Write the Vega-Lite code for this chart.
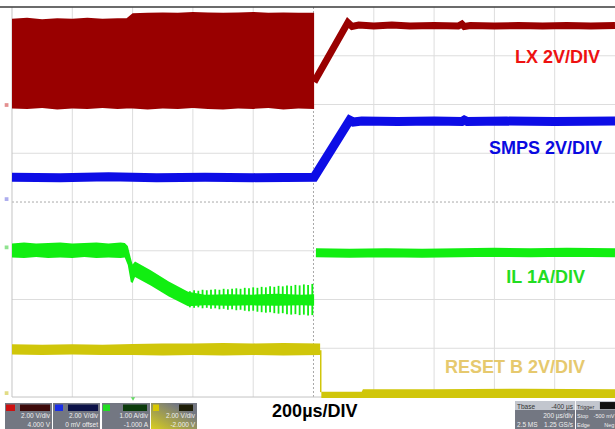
{
  "$schema": "https://vega.github.io/schema/vega-lite/v6.json",
  "width": 615,
  "height": 429,
  "autosize": {"type": "none"},
  "padding": 0,
  "background": "white",
  "config": {"view": {"stroke": null}},
  "resolve": {"scale": {"color": "independent", "fill": "independent", "stroke": "independent"}},
  "datasets": {
    "vgrid": [{"t": 1}, {"t": 2}, {"t": 3}, {"t": 4}, {"t": 6}, {"t": 7}, {"t": 8}, {"t": 9}],
    "hgrid": [{"v": 1}, {"v": 2}, {"v": 3}, {"v": 5}, {"v": 6}, {"v": 7}],
    "lxband": [
      {"t": 0, "v": 7.76, "v2": 5.92}, {"t": 0.25, "v": 7.78, "v2": 5.91}, {"t": 0.5, "v": 7.75, "v2": 5.93},
      {"t": 0.75, "v": 7.77, "v2": 5.9}, {"t": 1.0, "v": 7.76, "v2": 5.92}, {"t": 1.25, "v": 7.78, "v2": 5.91},
      {"t": 1.5, "v": 7.76, "v2": 5.93}, {"t": 1.75, "v": 7.77, "v2": 5.91}, {"t": 1.9, "v": 7.77, "v2": 5.92},
      {"t": 2.0, "v": 7.87, "v2": 5.92}, {"t": 2.25, "v": 7.88, "v2": 5.9}, {"t": 2.5, "v": 7.89, "v2": 5.92},
      {"t": 2.75, "v": 7.88, "v2": 5.91}, {"t": 3.0, "v": 7.9, "v2": 5.93}, {"t": 3.25, "v": 7.89, "v2": 5.91},
      {"t": 3.5, "v": 7.88, "v2": 5.9}, {"t": 3.75, "v": 7.89, "v2": 5.92}, {"t": 4.0, "v": 7.9, "v2": 5.91},
      {"t": 4.25, "v": 7.88, "v2": 5.93}, {"t": 4.5, "v": 7.89, "v2": 5.9}, {"t": 4.75, "v": 7.88, "v2": 5.92},
      {"t": 5.01, "v": 7.88, "v2": 5.91}
    ],
    "lxline": [
      {"t": 5.01, "v": 6.46}, {"t": 5.57, "v": 7.68}, {"t": 5.64, "v": 7.6}, {"t": 5.75, "v": 7.63},
      {"t": 6.0, "v": 7.61}, {"t": 6.3, "v": 7.63}, {"t": 6.6, "v": 7.61}, {"t": 7.0, "v": 7.62},
      {"t": 7.4, "v": 7.61}, {"t": 7.46, "v": 7.65}, {"t": 7.5, "v": 7.6}, {"t": 7.6, "v": 7.62},
      {"t": 8.0, "v": 7.61}, {"t": 8.4, "v": 7.62}, {"t": 8.8, "v": 7.61}, {"t": 9.2, "v": 7.62},
      {"t": 9.6, "v": 7.61}, {"t": 10, "v": 7.62}
    ],
    "smps": [
      {"t": 0, "v": 4.51}, {"t": 0.8, "v": 4.5}, {"t": 1.6, "v": 4.52}, {"t": 2.4, "v": 4.5},
      {"t": 3.2, "v": 4.51}, {"t": 4.0, "v": 4.5}, {"t": 5.01, "v": 4.51}, {"t": 5.6, "v": 5.68},
      {"t": 5.66, "v": 5.64}, {"t": 5.8, "v": 5.66}, {"t": 6.4, "v": 5.65}, {"t": 7.0, "v": 5.66},
      {"t": 7.46, "v": 5.65}, {"t": 7.5, "v": 5.68}, {"t": 7.55, "v": 5.65}, {"t": 8.2, "v": 5.66},
      {"t": 9.0, "v": 5.65}, {"t": 10, "v": 5.66}
    ],
    "ilband": [
      {"t": 0, "v": 3.15, "v2": 2.86}, {"t": 0.2, "v": 3.17, "v2": 2.85}, {"t": 0.4, "v": 3.15, "v2": 2.87},
      {"t": 0.6, "v": 3.16, "v2": 2.85}, {"t": 0.8, "v": 3.17, "v2": 2.86}, {"t": 1.0, "v": 3.15, "v2": 2.85},
      {"t": 1.2, "v": 3.16, "v2": 2.87}, {"t": 1.4, "v": 3.17, "v2": 2.85}, {"t": 1.6, "v": 3.15, "v2": 2.86},
      {"t": 1.8, "v": 3.17, "v2": 2.85}, {"t": 1.87, "v": 3.16, "v2": 2.86}, {"t": 1.92, "v": 3.1, "v2": 2.71},
      {"t": 1.97, "v": 2.85, "v2": 2.36}, {"t": 2.0, "v": 2.72, "v2": 2.34}, {"t": 2.04, "v": 2.78, "v2": 2.46},
      {"t": 2.3, "v": 2.6, "v2": 2.29}, {"t": 2.6, "v": 2.37, "v2": 2.06}, {"t": 2.92, "v": 2.16, "v2": 1.86},
      {"t": 3.2, "v": 2.1, "v2": 1.88}, {"t": 3.6, "v": 2.11, "v2": 1.87}, {"t": 4.0, "v": 2.1, "v2": 1.88},
      {"t": 4.4, "v": 2.12, "v2": 1.87}, {"t": 4.8, "v": 2.1, "v2": 1.88}, {"t": 5.01, "v": 2.11, "v2": 1.87}
    ],
    "ilspikes": [
      {"t": 2.95, "v": 2.17, "v2": 1.84}, {"t": 3.02, "v": 2.19, "v2": 1.83}, {"t": 3.09, "v": 2.18, "v2": 1.84},
      {"t": 3.16, "v": 2.2, "v2": 1.82}, {"t": 3.23, "v": 2.19, "v2": 1.83}, {"t": 3.3, "v": 2.2, "v2": 1.81},
      {"t": 3.37, "v": 2.21, "v2": 1.82}, {"t": 3.44, "v": 2.2, "v2": 1.8}, {"t": 3.51, "v": 2.22, "v2": 1.81},
      {"t": 3.58, "v": 2.21, "v2": 1.79}, {"t": 3.65, "v": 2.22, "v2": 1.8}, {"t": 3.72, "v": 2.23, "v2": 1.78},
      {"t": 3.79, "v": 2.22, "v2": 1.79}, {"t": 3.86, "v": 2.24, "v2": 1.77}, {"t": 3.93, "v": 2.23, "v2": 1.76},
      {"t": 4.0, "v": 2.25, "v2": 1.77}, {"t": 4.07, "v": 2.24, "v2": 1.75}, {"t": 4.14, "v": 2.26, "v2": 1.74},
      {"t": 4.21, "v": 2.25, "v2": 1.73}, {"t": 4.28, "v": 2.27, "v2": 1.74}, {"t": 4.35, "v": 2.26, "v2": 1.72},
      {"t": 4.42, "v": 2.28, "v2": 1.71}, {"t": 4.49, "v": 2.27, "v2": 1.72}, {"t": 4.56, "v": 2.29, "v2": 1.7},
      {"t": 4.63, "v": 2.28, "v2": 1.69}, {"t": 4.7, "v": 2.3, "v2": 1.7}, {"t": 4.77, "v": 2.29, "v2": 1.68},
      {"t": 4.84, "v": 2.31, "v2": 1.69}, {"t": 4.91, "v": 2.3, "v2": 1.67}, {"t": 4.98, "v": 2.32, "v2": 1.68}
    ],
    "ilafter": [
      {"t": 5.04, "v": 2.96}, {"t": 5.6, "v": 2.95}, {"t": 6.2, "v": 2.96}, {"t": 6.8, "v": 2.95},
      {"t": 7.4, "v": 2.96}, {"t": 8.0, "v": 2.97}, {"t": 8.6, "v": 2.96}, {"t": 9.2, "v": 2.97}, {"t": 10, "v": 2.96}
    ],
    "rsband": [
      {"t": 0, "v": 1.08, "v2": 0.87}, {"t": 0.5, "v": 1.07, "v2": 0.86}, {"t": 1.0, "v": 1.08, "v2": 0.87},
      {"t": 1.5, "v": 1.07, "v2": 0.86}, {"t": 2.0, "v": 1.09, "v2": 0.86}, {"t": 2.5, "v": 1.1, "v2": 0.85},
      {"t": 3.0, "v": 1.1, "v2": 0.86}, {"t": 3.5, "v": 1.11, "v2": 0.85}, {"t": 4.0, "v": 1.1, "v2": 0.86},
      {"t": 4.5, "v": 1.11, "v2": 0.85}, {"t": 5.11, "v": 1.1, "v2": 0.86}
    ],
    "rsafter": [
      {"t": 5.13, "v": 0.11, "v2": -0.02}, {"t": 5.8, "v": 0.11, "v2": -0.02}, {"t": 5.82, "v": 0.16, "v2": -0.02},
      {"t": 7.0, "v": 0.16, "v2": -0.02}, {"t": 8.5, "v": 0.17, "v2": -0.02}, {"t": 10, "v": 0.16, "v2": -0.02}
    ],
    "markers": [
      {"ch": "C1", "t": -0.09, "v": 5.99}, {"ch": "C2", "t": -0.09, "v": 4.06},
      {"ch": "C3", "t": -0.09, "v": 3.07}, {"ch": "C4", "t": -0.09, "v": 0.08}
    ],
    "boxes": [
      {"t": -0.116, "t2": 0.663, "v": -0.123, "v2": -0.656},
      {"t": 0.68, "t2": 1.459, "v": -0.123, "v2": -0.656},
      {"t": 1.493, "t2": 2.289, "v": -0.123, "v2": -0.656},
      {"t": 8.342, "t2": 9.337, "v": -0.082, "v2": -0.656},
      {"t": 9.353, "t2": 10.0, "v": -0.082, "v2": -0.656}
    ],
    "box4": [{"t": 2.305, "t2": 3.068, "v": -0.123, "v2": -0.656}],
    "toprows": [
      {"t": 8.342, "t2": 9.337, "v": -0.082, "v2": -0.267},
      {"t": 9.353, "t2": 10.0, "v": -0.082, "v2": -0.267}
    ],
    "blackrect": [{"t": 9.75, "t2": 10.0, "v": -0.103, "v2": -0.25}],
    "chsq": [
      {"ch": "C1", "t": -0.1, "t2": 0.05, "v": -0.154, "v2": -0.287},
      {"ch": "C2", "t": 0.713, "t2": 0.846, "v": -0.154, "v2": -0.287},
      {"ch": "C3", "t": 1.509, "t2": 1.625, "v": -0.154, "v2": -0.287},
      {"ch": "C4", "t": 2.338, "t2": 2.438, "v": -0.154, "v2": -0.287}
    ],
    "chdark": [
      {"cd": "D1", "t": 0.133, "t2": 0.63, "v": -0.154, "v2": -0.287},
      {"cd": "D2", "t": 0.929, "t2": 1.426, "v": -0.154, "v2": -0.287},
      {"cd": "D3", "t": 1.841, "t2": 2.239, "v": -0.154, "v2": -0.287},
      {"cd": "D4", "t": 2.769, "t2": 3.002, "v": -0.154, "v2": -0.287}
    ],
    "stR": [
      {"t": 0.63, "v": -0.43, "s": "2.00 V/div"}, {"t": 0.63, "v": -0.615, "s": "4.000 V"},
      {"t": 1.426, "v": -0.43, "s": "2.00 V/div"}, {"t": 1.426, "v": -0.615, "s": "0 mV offset"},
      {"t": 2.255, "v": -0.43, "s": "1.00 A/div"}, {"t": 2.255, "v": -0.615, "s": "-1.000 A"},
      {"t": 3.035, "v": -0.43, "s": "2.00 V/div"}, {"t": 3.035, "v": -0.615, "s": "-2.000 V"},
      {"t": 9.303, "v": -0.43, "s": "200 µs/div"}, {"t": 9.303, "v": -0.615, "s": "1.25 GS/s"}
    ],
    "stR2": [
      {"t": 9.99, "v": -0.43, "s": "-500 mV"}, {"t": 9.99, "v": -0.615, "s": "Neg"}
    ],
    "stL": [{"t": 8.375, "v": -0.615, "s": "2.5 MS"}],
    "stL2": [{"t": 9.37, "v": -0.43, "s": "Stop"}, {"t": 9.37, "v": -0.615, "s": "Edge"}],
    "stDark": [{"t": 8.375, "v": -0.236, "s": "Tbase"}],
    "stDark2": [{"t": 9.37, "v": -0.236, "s": "Trigger"}],
    "stDarkR": [{"t": 9.303, "v": -0.236, "s": "-400 µs"}],
    "labels": [
      {"s": "LX 2V/DIV", "t": 9.751, "v": 6.851, "k": "LX"},
      {"s": "SMPS 2V/DIV", "t": 9.784, "v": 4.985, "k": "SMPS"},
      {"s": "IL 1A/DIV", "t": 9.502, "v": 2.338, "k": "IL"},
      {"s": "RESET B 2V/DIV", "t": 9.502, "v": 0.492, "k": "RESET"},
      {"s": "200µs/DIV", "t": 5.73, "v": -0.41, "k": "TIME"}
    ]
  },
  "layer": [
    {"data": {"name": "vgrid"}, "mark": {"type": "rule", "color": "#dddddd", "strokeWidth": 1},
     "encoding": {
       "x": {"field": "t", "type": "quantitative", "scale": {"domain": [-0.199, 10], "nice": false, "zero": false}, "axis": null},
       "y": {"datum": 0, "type": "quantitative", "scale": {"domain": [-0.656, 8.144], "nice": false, "zero": false}, "axis": null},
       "y2": {"datum": 8}}},
    {"data": {"name": "hgrid"}, "mark": {"type": "rule", "color": "#dddddd", "strokeWidth": 1},
     "encoding": {
       "x": {"datum": 0, "type": "quantitative", "scale": {"domain": [-0.199, 10], "nice": false, "zero": false}, "axis": null},
       "x2": {"datum": 10},
       "y": {"field": "v", "type": "quantitative", "scale": {"domain": [-0.656, 8.144], "nice": false, "zero": false}, "axis": null}}},
    {"data": {"values": [{"t": 5}]}, "mark": {"type": "rule", "color": "#a8a8a8", "strokeWidth": 1, "strokeDash": [2, 2]},
     "encoding": {
       "x": {"field": "t", "type": "quantitative", "scale": {"domain": [-0.199, 10], "nice": false, "zero": false}, "axis": null},
       "y": {"datum": 0, "type": "quantitative", "scale": {"domain": [-0.656, 8.144], "nice": false, "zero": false}, "axis": null},
       "y2": {"datum": 8}}},
    {"data": {"values": [{"v": 4}]}, "mark": {"type": "rule", "color": "#a8a8a8", "strokeWidth": 1, "strokeDash": [2, 2]},
     "encoding": {
       "x": {"datum": 0, "type": "quantitative", "scale": {"domain": [-0.199, 10], "nice": false, "zero": false}, "axis": null},
       "x2": {"datum": 10},
       "y": {"field": "v", "type": "quantitative", "scale": {"domain": [-0.656, 8.144], "nice": false, "zero": false}, "axis": null}}},
    {"data": {"values": [{"t": 0}]}, "mark": {"type": "rule", "color": "#c4c4c4", "strokeWidth": 1},
     "encoding": {
       "x": {"field": "t", "type": "quantitative", "scale": {"domain": [-0.199, 10], "nice": false, "zero": false}, "axis": null},
       "y": {"datum": 0, "type": "quantitative", "scale": {"domain": [-0.656, 8.144], "nice": false, "zero": false}, "axis": null},
       "y2": {"datum": 8}}},
    {"data": {"values": [{"v": 0}]}, "mark": {"type": "rule", "color": "#c4c4c4", "strokeWidth": 1},
     "encoding": {
       "x": {"datum": 0, "type": "quantitative", "scale": {"domain": [-0.199, 10], "nice": false, "zero": false}, "axis": null},
       "x2": {"datum": 10},
       "y": {"field": "v", "type": "quantitative", "scale": {"domain": [-0.656, 8.144], "nice": false, "zero": false}, "axis": null}}},
    {"data": {"name": "lxband"}, "mark": {"type": "area", "color": "#990000"},
     "encoding": {
       "x": {"field": "t", "type": "quantitative", "scale": {"domain": [-0.199, 10], "nice": false, "zero": false}, "axis": null},
       "y": {"field": "v", "type": "quantitative", "scale": {"domain": [-0.656, 8.144], "nice": false, "zero": false}, "axis": null},
       "y2": {"field": "v2"}}},
    {"data": {"name": "lxline"}, "mark": {"type": "line", "color": "#990000", "strokeWidth": 7},
     "encoding": {
       "x": {"field": "t", "type": "quantitative", "scale": {"domain": [-0.199, 10], "nice": false, "zero": false}, "axis": null},
       "y": {"field": "v", "type": "quantitative", "scale": {"domain": [-0.656, 8.144], "nice": false, "zero": false}, "axis": null}}},
    {"data": {"name": "smps"}, "mark": {"type": "line", "color": "#0d0de6", "strokeWidth": 9},
     "encoding": {
       "x": {"field": "t", "type": "quantitative", "scale": {"domain": [-0.199, 10], "nice": false, "zero": false}, "axis": null},
       "y": {"field": "v", "type": "quantitative", "scale": {"domain": [-0.656, 8.144], "nice": false, "zero": false}, "axis": null}}},
    {"data": {"name": "ilband"}, "mark": {"type": "area", "color": "#11ee11"},
     "encoding": {
       "x": {"field": "t", "type": "quantitative", "scale": {"domain": [-0.199, 10], "nice": false, "zero": false}, "axis": null},
       "y": {"field": "v", "type": "quantitative", "scale": {"domain": [-0.656, 8.144], "nice": false, "zero": false}, "axis": null},
       "y2": {"field": "v2"}}},
    {"data": {"name": "ilspikes"}, "mark": {"type": "rule", "color": "#11ee11", "strokeWidth": 1.8},
     "encoding": {
       "x": {"field": "t", "type": "quantitative", "scale": {"domain": [-0.199, 10], "nice": false, "zero": false}, "axis": null},
       "y": {"field": "v", "type": "quantitative", "scale": {"domain": [-0.656, 8.144], "nice": false, "zero": false}, "axis": null},
       "y2": {"field": "v2"}}},
    {"data": {"name": "ilafter"}, "mark": {"type": "line", "color": "#11ee11", "strokeWidth": 9},
     "encoding": {
       "x": {"field": "t", "type": "quantitative", "scale": {"domain": [-0.199, 10], "nice": false, "zero": false}, "axis": null},
       "y": {"field": "v", "type": "quantitative", "scale": {"domain": [-0.656, 8.144], "nice": false, "zero": false}, "axis": null}}},
    {"data": {"name": "rsband"}, "mark": {"type": "area", "color": "#d0c60a"},
     "encoding": {
       "x": {"field": "t", "type": "quantitative", "scale": {"domain": [-0.199, 10], "nice": false, "zero": false}, "axis": null},
       "y": {"field": "v", "type": "quantitative", "scale": {"domain": [-0.656, 8.144], "nice": false, "zero": false}, "axis": null},
       "y2": {"field": "v2"}}},
    {"data": {"values": [{"t": 5.12, "v": 0.96, "v2": 0.1}]}, "mark": {"type": "rule", "color": "#d0c60a", "strokeWidth": 1.5},
     "encoding": {
       "x": {"field": "t", "type": "quantitative", "scale": {"domain": [-0.199, 10], "nice": false, "zero": false}, "axis": null},
       "y": {"field": "v", "type": "quantitative", "scale": {"domain": [-0.656, 8.144], "nice": false, "zero": false}, "axis": null},
       "y2": {"field": "v2"}}},
    {"data": {"name": "rsafter"}, "mark": {"type": "area", "color": "#d0c60a"},
     "encoding": {
       "x": {"field": "t", "type": "quantitative", "scale": {"domain": [-0.199, 10], "nice": false, "zero": false}, "axis": null},
       "y": {"field": "v", "type": "quantitative", "scale": {"domain": [-0.656, 8.144], "nice": false, "zero": false}, "axis": null},
       "y2": {"field": "v2"}}},
    {"data": {"values": [{"v": 8}]}, "mark": {"type": "rule", "color": "#3a3a3a", "strokeWidth": 1.5},
     "encoding": {
       "x": {"datum": -0.199, "type": "quantitative", "scale": {"domain": [-0.199, 10], "nice": false, "zero": false}, "axis": null},
       "x2": {"datum": 10},
       "y": {"field": "v", "type": "quantitative", "scale": {"domain": [-0.656, 8.144], "nice": false, "zero": false}, "axis": null}}},
    {"data": {"name": "markers"}, "mark": {"type": "point", "shape": "square", "filled": true, "size": 14, "opacity": 0.55},
     "encoding": {
       "x": {"field": "t", "type": "quantitative", "scale": {"domain": [-0.199, 10], "nice": false, "zero": false}, "axis": null},
       "y": {"field": "v", "type": "quantitative", "scale": {"domain": [-0.656, 8.144], "nice": false, "zero": false}, "axis": null},
       "color": {"field": "ch", "type": "nominal", "scale": {"domain": ["C1", "C2", "C3", "C4"], "range": ["#cc3333", "#6a6ae0", "#33cc33", "#c8c020"]}, "legend": null}}},
    {"data": {"name": "labels"},
     "mark": {"type": "text", "align": "right", "baseline": "alphabetic", "font": "Liberation Sans", "fontWeight": "bold", "fontSize": 18},
     "encoding": {
       "x": {"field": "t", "type": "quantitative", "scale": {"domain": [-0.199, 10], "nice": false, "zero": false}, "axis": null},
       "y": {"field": "v", "type": "quantitative", "scale": {"domain": [-0.656, 8.144], "nice": false, "zero": false}, "axis": null},
       "text": {"field": "s"},
       "fill": {"field": "k", "type": "nominal", "scale": {"domain": ["LX", "SMPS", "IL", "RESET", "TIME"], "range": ["#ee1111", "#0a0ae0", "#22dd22", "#e6c96e", "#000000"]}, "legend": null}}},
    {"data": {"name": "boxes"}, "mark": {"type": "rect", "color": "#737782"},
     "encoding": {
       "x": {"field": "t", "type": "quantitative", "scale": {"domain": [-0.199, 10], "nice": false, "zero": false}, "axis": null},
       "x2": {"field": "t2"},
       "y": {"field": "v", "type": "quantitative", "scale": {"domain": [-0.656, 8.144], "nice": false, "zero": false}, "axis": null},
       "y2": {"field": "v2"}}},
    {"data": {"name": "box4"},
     "mark": {"type": "rect", "fill": {"gradient": "linear", "x1": 0, "y1": 1, "x2": 1, "y2": 0, "stops": [{"offset": 0, "color": "#d9cf1e"}, {"offset": 0.35, "color": "#a8a44a"}, {"offset": 0.75, "color": "#737782"}]}},
     "encoding": {
       "x": {"field": "t", "type": "quantitative", "scale": {"domain": [-0.199, 10], "nice": false, "zero": false}, "axis": null},
       "x2": {"field": "t2"},
       "y": {"field": "v", "type": "quantitative", "scale": {"domain": [-0.656, 8.144], "nice": false, "zero": false}, "axis": null},
       "y2": {"field": "v2"}}},
    {"data": {"name": "toprows"}, "mark": {"type": "rect", "color": "#c2c6ce"},
     "encoding": {
       "x": {"field": "t", "type": "quantitative", "scale": {"domain": [-0.199, 10], "nice": false, "zero": false}, "axis": null},
       "x2": {"field": "t2"},
       "y": {"field": "v", "type": "quantitative", "scale": {"domain": [-0.656, 8.144], "nice": false, "zero": false}, "axis": null},
       "y2": {"field": "v2"}}},
    {"data": {"name": "blackrect"}, "mark": {"type": "rect", "color": "#111111"},
     "encoding": {
       "x": {"field": "t", "type": "quantitative", "scale": {"domain": [-0.199, 10], "nice": false, "zero": false}, "axis": null},
       "x2": {"field": "t2"},
       "y": {"field": "v", "type": "quantitative", "scale": {"domain": [-0.656, 8.144], "nice": false, "zero": false}, "axis": null},
       "y2": {"field": "v2"}}},
    {"data": {"name": "chsq"}, "mark": {"type": "rect"},
     "encoding": {
       "x": {"field": "t", "type": "quantitative", "scale": {"domain": [-0.199, 10], "nice": false, "zero": false}, "axis": null},
       "x2": {"field": "t2"},
       "y": {"field": "v", "type": "quantitative", "scale": {"domain": [-0.656, 8.144], "nice": false, "zero": false}, "axis": null},
       "y2": {"field": "v2"},
       "fill": {"field": "ch", "type": "nominal", "scale": {"domain": ["C1", "C2", "C3", "C4"], "range": ["#cc1111", "#1a2ee6", "#22dd22", "#d8c800"]}, "legend": null}}},
    {"data": {"name": "chdark"}, "mark": {"type": "rect"},
     "encoding": {
       "x": {"field": "t", "type": "quantitative", "scale": {"domain": [-0.199, 10], "nice": false, "zero": false}, "axis": null},
       "x2": {"field": "t2"},
       "y": {"field": "v", "type": "quantitative", "scale": {"domain": [-0.656, 8.144], "nice": false, "zero": false}, "axis": null},
       "y2": {"field": "v2"},
       "color": {"field": "cd", "type": "nominal", "scale": {"domain": ["D1", "D2", "D3", "D4"], "range": ["#3c0a0a", "#0c1248", "#0c3c0c", "#1e1e08"]}, "legend": null}}},
    {"data": {"name": "stR"}, "mark": {"type": "text", "align": "right", "baseline": "alphabetic", "font": "Liberation Sans", "fontSize": 6.5, "color": "#eeeeee"},
     "encoding": {
       "x": {"field": "t", "type": "quantitative", "scale": {"domain": [-0.199, 10], "nice": false, "zero": false}, "axis": null},
       "y": {"field": "v", "type": "quantitative", "scale": {"domain": [-0.656, 8.144], "nice": false, "zero": false}, "axis": null},
       "text": {"field": "s"}}},
    {"data": {"name": "stR2"}, "mark": {"type": "text", "align": "right", "baseline": "alphabetic", "font": "Liberation Sans", "fontSize": 5.5, "color": "#eeeeee"},
     "encoding": {
       "x": {"field": "t", "type": "quantitative", "scale": {"domain": [-0.199, 10], "nice": false, "zero": false}, "axis": null},
       "y": {"field": "v", "type": "quantitative", "scale": {"domain": [-0.656, 8.144], "nice": false, "zero": false}, "axis": null},
       "text": {"field": "s"}}},
    {"data": {"name": "stL"}, "mark": {"type": "text", "align": "left", "baseline": "alphabetic", "font": "Liberation Sans", "fontSize": 6.5, "color": "#eeeeee"},
     "encoding": {
       "x": {"field": "t", "type": "quantitative", "scale": {"domain": [-0.199, 10], "nice": false, "zero": false}, "axis": null},
       "y": {"field": "v", "type": "quantitative", "scale": {"domain": [-0.656, 8.144], "nice": false, "zero": false}, "axis": null},
       "text": {"field": "s"}}},
    {"data": {"name": "stL2"}, "mark": {"type": "text", "align": "left", "baseline": "alphabetic", "font": "Liberation Sans", "fontSize": 5.5, "color": "#eeeeee"},
     "encoding": {
       "x": {"field": "t", "type": "quantitative", "scale": {"domain": [-0.199, 10], "nice": false, "zero": false}, "axis": null},
       "y": {"field": "v", "type": "quantitative", "scale": {"domain": [-0.656, 8.144], "nice": false, "zero": false}, "axis": null},
       "text": {"field": "s"}}},
    {"data": {"name": "stDark"}, "mark": {"type": "text", "align": "left", "baseline": "alphabetic", "font": "Liberation Sans", "fontSize": 6.5, "color": "#333333"},
     "encoding": {
       "x": {"field": "t", "type": "quantitative", "scale": {"domain": [-0.199, 10], "nice": false, "zero": false}, "axis": null},
       "y": {"field": "v", "type": "quantitative", "scale": {"domain": [-0.656, 8.144], "nice": false, "zero": false}, "axis": null},
       "text": {"field": "s"}}},
    {"data": {"name": "stDark2"}, "mark": {"type": "text", "align": "left", "baseline": "alphabetic", "font": "Liberation Sans", "fontSize": 5.5, "color": "#333333"},
     "encoding": {
       "x": {"field": "t", "type": "quantitative", "scale": {"domain": [-0.199, 10], "nice": false, "zero": false}, "axis": null},
       "y": {"field": "v", "type": "quantitative", "scale": {"domain": [-0.656, 8.144], "nice": false, "zero": false}, "axis": null},
       "text": {"field": "s"}}},
    {"data": {"name": "stDarkR"}, "mark": {"type": "text", "align": "right", "baseline": "alphabetic", "font": "Liberation Sans", "fontSize": 6.5, "color": "#333333"},
     "encoding": {
       "x": {"field": "t", "type": "quantitative", "scale": {"domain": [-0.199, 10], "nice": false, "zero": false}, "axis": null},
       "y": {"field": "v", "type": "quantitative", "scale": {"domain": [-0.656, 8.144], "nice": false, "zero": false}, "axis": null},
       "text": {"field": "s"}}},
    {"data": {"values": [{"t": 2.007, "v": -0.04}]}, "mark": {"type": "point", "shape": "triangle-down", "filled": true, "size": 18, "color": "#22cc22"},
     "encoding": {
       "x": {"field": "t", "type": "quantitative", "scale": {"domain": [-0.199, 10], "nice": false, "zero": false}, "axis": null},
       "y": {"field": "v", "type": "quantitative", "scale": {"domain": [-0.656, 8.144], "nice": false, "zero": false}, "axis": null}}}
  ]
}
